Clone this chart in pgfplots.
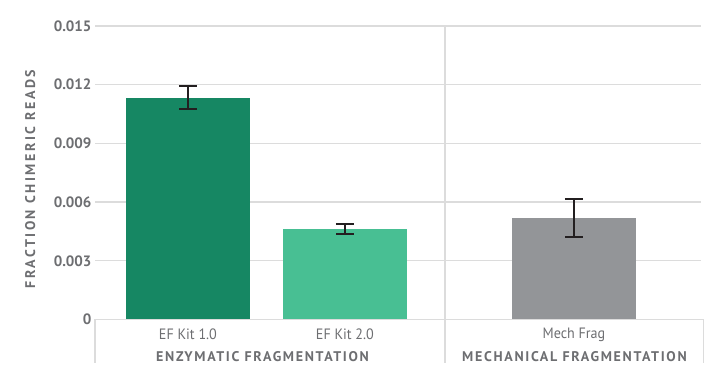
\documentclass[border=0pt]{standalone}
\usepackage{fontspec}
\setmainfont{PT Sans}[FakeStretch=0.94]
\newfontfamily\spfont{PT Sans}[LetterSpace=12]
\newfontfamily\ylfont{PT Sans}[LetterSpace=18]
\newfontfamily\tkfont{PT Sans}
\usepackage{pgfplots}
\pgfplotsset{compat=1.18}
\definecolor{dkgreen}{HTML}{168763}
\definecolor{ltgreen}{HTML}{48BF93}
\definecolor{mgray}{HTML}{939598}
\definecolor{txt}{HTML}{6D6E71}
\definecolor{gridc}{HTML}{DCDCDC}
\definecolor{errc}{HTML}{231F20}
\begin{document}
\begin{tikzpicture}
\useasboundingbox (0,0) rectangle (720bp,389bp);
\begin{axis}[
  at={(95bp,69.5bp)}, anchor=south west,
  scale only axis, width=606bp, height=293.5bp,
  xmin=0.408, xmax=4.268, ymin=0, ymax=0.015,
  axis line style={draw=none},
  major tick length=0pt,
  xtick=\empty,
  scaled y ticks=false,
  ytick={0,0.003,0.006,0.009,0.012,0.015},
  yticklabels={0,0.003,0.006,0.009,0.012,0.015},
  yticklabel style={font=\fontsize{15bp}{16bp}\selectfont\tkfont\bfseries, text=txt},
  /pgf/number format/assume math mode=true,
  ymajorgrids, grid style={gridc, line width=1.3bp},
  ybar, bar width=124bp,
  clip=false,
  error bars/y dir=both, error bars/y explicit,
  error bars/error bar style={line width=2bp, errc},
  error bars/error mark options={rotate=90, mark size=9bp, line width=2bp, errc},
]
\addplot[fill=dkgreen, draw=none, bar shift=0pt] coordinates {(1,0.01134) +- (0,0.0006)};
\addplot[fill=ltgreen, draw=none, bar shift=0pt] coordinates {(2,0.00463) +- (0,0.00025)};
\addplot[fill=mgray, draw=none, bar shift=0pt] coordinates {(3.459,0.00518) +- (0,0.00097)};
\draw[gridc, line width=1.3bp] (rel axis cs:0,0) -- (rel axis cs:1.004,0);
\draw[gridc, line width=1.3bp] (rel axis cs:0,0) -- ([yshift=-43.5bp]rel axis cs:0,0);
\draw[gridc, line width=1.3bp] (rel axis cs:1.004,0) -- ([yshift=-43.5bp]rel axis cs:1.004,0);
\draw[gridc, line width=1.3bp] (axis cs:2.637,0.015) -- ([yshift=-43.5bp]axis cs:2.637,0);
\node[font=\fontsize{15bp}{16bp}\selectfont, text=txt] at ([yshift=-15bp]axis cs:1,0) {EF Kit 1.0};
\node[font=\fontsize{15bp}{16bp}\selectfont, text=txt] at ([yshift=-15bp]axis cs:2,0) {EF Kit 2.0};
\node[font=\fontsize{15bp}{16bp}\selectfont, text=txt] at ([yshift=-15bp]axis cs:3.459,0) {Mech Frag};
\node[font=\fontsize{14bp}{16bp}\selectfont\spfont\bfseries, text=txt] at ([yshift=-37.5bp]axis cs:1.475,0) {ENZYMATIC FRAGMENTATION};
\node[font=\fontsize{14bp}{16bp}\selectfont\spfont\bfseries, text=txt] at ([yshift=-37.5bp]axis cs:3.462,0) {MECHANICAL FRAGMENTATION};
\node[rotate=90, font=\fontsize{14bp}{16bp}\selectfont\ylfont\bfseries, text=txt] at (rel axis cs:-0.107,0.479) {FRACTION CHIMERIC READS};
\end{axis}
\end{tikzpicture}
\end{document}
